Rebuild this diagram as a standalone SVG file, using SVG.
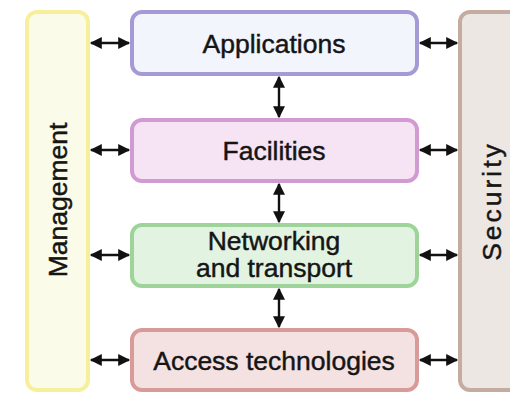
<svg xmlns="http://www.w3.org/2000/svg" width="510" height="393" viewBox="0 0 510 393">
<style>
.box{stroke-width:4}
.t{font-family:"Liberation Sans",Arial,sans-serif;font-size:26.5px;fill:#151515;stroke:#151515;stroke-width:0.45;text-anchor:middle;dominant-baseline:central}
.c{stroke:#111;stroke-width:2.4;fill:none;marker-start:url(#ah);marker-end:url(#ah)}
</style>
<defs>
<marker id="ah" viewBox="0 0 10 10" refX="9" refY="5" markerWidth="5.5" markerHeight="5" orient="auto-start-reverse" markerUnits="strokeWidth">
<path d="M0,0 L10,5 L0,10 z" fill="#111"/>
</marker>
</defs>
<rect width="510" height="393" fill="#fff"/>
<g id="management">
<rect class="box" x="27" y="12" width="61" height="378" rx="10" fill="#fbfbe9" stroke="#f6ef9c"/>
<text class="t" transform="translate(58,200) rotate(-90)">Management</text>
</g>
<g id="security">
<rect class="box" x="460" y="12" width="70" height="378" rx="10" fill="#ede7e4" stroke="#c4ada0"/>
<text class="t" transform="translate(492,201) rotate(-90)" style="letter-spacing:3px">Security</text>
</g>
<g id="applications">
<rect class="box" x="132" y="12" width="285" height="62" rx="10" fill="#f3f5fd" stroke="#a69ad6"/>
<text class="t" x="274" y="44">Applications</text>
</g>
<g id="facilities">
<rect class="box" x="132" y="120" width="285" height="61" rx="10" fill="#f6e3f3" stroke="#d29ad2"/>
<text class="t" x="274" y="151">Facilities</text>
</g>
<g id="networking">
<rect class="box" x="132" y="225" width="285" height="61" rx="10" fill="#e3f3e2" stroke="#9ed49a"/>
<text class="t" x="274" y="241">Networking</text>
<text class="t" x="274" y="268">and transport</text>
</g>
<g id="access">
<rect class="box" x="132" y="330" width="285" height="60" rx="10" fill="#f4e2e2" stroke="#d99a9a"/>
<text class="t" x="274" y="361">Access technologies</text>
</g>
<g id="connectors">
<line class="c" x1="91" y1="43" x2="129" y2="43"/>
<line class="c" x1="91" y1="150" x2="129" y2="150"/>
<line class="c" x1="91" y1="255" x2="129" y2="255"/>
<line class="c" x1="91" y1="360" x2="129" y2="360"/>
<line class="c" x1="420" y1="43" x2="457" y2="43"/>
<line class="c" x1="420" y1="150" x2="457" y2="150"/>
<line class="c" x1="420" y1="255" x2="457" y2="255"/>
<line class="c" x1="420" y1="360" x2="457" y2="360"/>
<line class="c" x1="279" y1="77" x2="279" y2="117"/>
<line class="c" x1="279" y1="184" x2="279" y2="222"/>
<line class="c" x1="279" y1="289" x2="279" y2="327"/>
</g>
</svg>
